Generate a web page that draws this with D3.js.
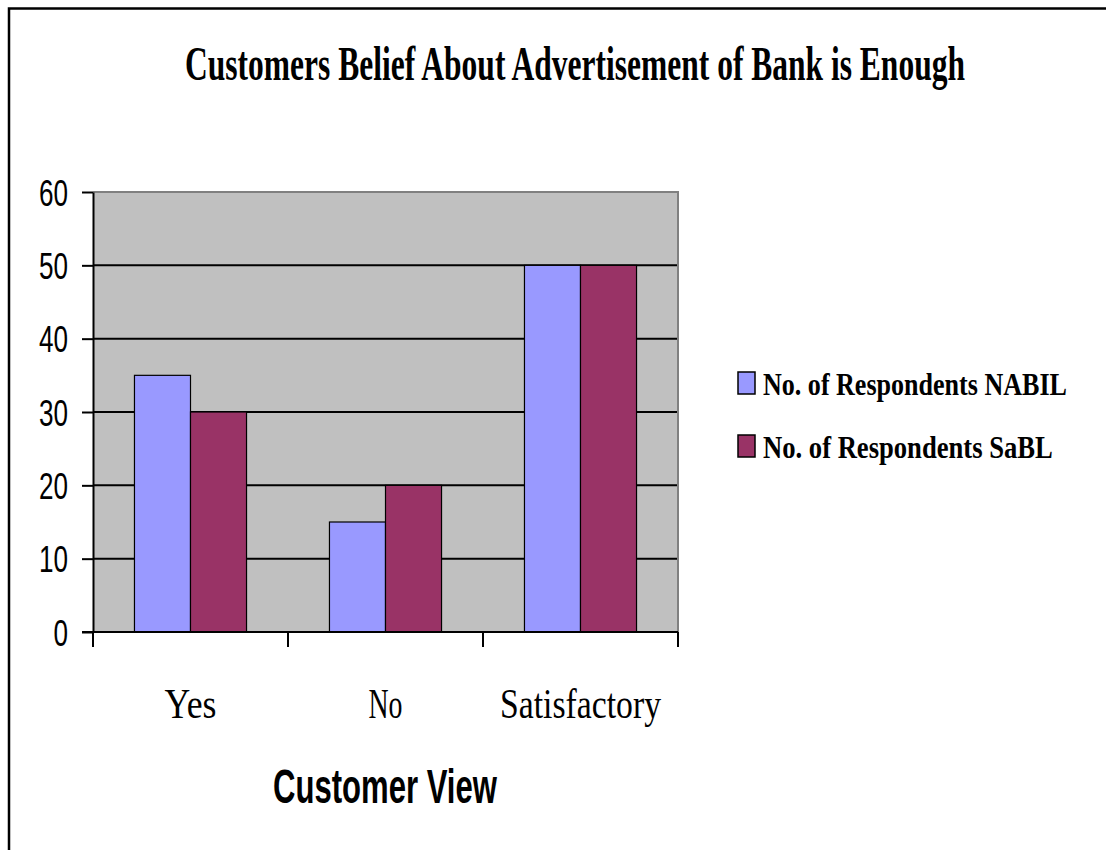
<!DOCTYPE html>
<html>
<head>
<meta charset="utf-8">
<script src="https://cdn.jsdelivr.net/npm/d3@7"></script>
<style>
  html, body { margin: 0; padding: 0; background: #fff; }
  svg { display: block; }
</style>
</head>
<body>
<svg id="chart" width="1106" height="850"></svg>
<script>
// Survey answers: does the bank advertise enough?
const categories = ["Yes", "No", "Satisfactory"];
const seriesNames = ["No. of Respondents NABIL", "No. of Respondents SaBL"];
const nabilValues = [35, 15, 50];
const sablValues = [30, 20, 50];
const yTicks = [0, 10, 20, 30, 40, 50, 60];
const colors = ["#9999ff", "#993366"];

const SERIF = "Liberation Serif, Times New Roman, serif";
const SANS = "Liberation Sans, Arial, sans-serif";

const svg = d3.select("#chart");

// squeeze a text element horizontally to a target width, keeping its anchor point
function condense(sel, width, anchor) {
  sel.each(function (d, i) {
    const t = d3.select(this);
    const w = typeof width === "function" ? width(d, i) : width;
    const natural = this.getComputedTextLength();
    const sx = w / natural;
    const x0 = +t.attr("x") || 0;
    const y0 = +t.attr("y") || 0;
    t.attr("transform", `translate(${x0},${y0}) scale(${sx},1)`)
     .attr("x", 0).attr("y", 0)
     .attr("text-anchor", anchor);
  });
}

// outer chart frame (runs off the right and bottom edges)
svg.append("rect")
  .attr("x", 9).attr("y", 8.5)
  .attr("width", 1200).attr("height", 900)
  .attr("fill", "#fff").attr("stroke", "#000").attr("stroke-width", 2.5);

const plot = { left: 93, right: 678, top: 192, bottom: 632 };

const x = d3.scaleBand().domain(categories)
  .range([plot.left, plot.right]).paddingInner(0).paddingOuter(0);
const xInner = d3.scaleBand().domain([0, 1])
  .range([0, x.bandwidth()]).paddingOuter(0.74).paddingInner(0);
const y = d3.scaleLinear().domain([0, 60]).range([plot.bottom, plot.top]);

// plot area background
svg.append("rect")
  .attr("x", plot.left).attr("y", plot.top)
  .attr("width", plot.right - plot.left).attr("height", plot.bottom - plot.top)
  .attr("fill", "#c0c0c0");

// gridlines
svg.append("g")
  .selectAll("line")
  .data(yTicks.filter(t => t > 0 && t < 60))
  .join("line")
  .attr("x1", plot.left).attr("x2", plot.right)
  .attr("y1", d => y(d)).attr("y2", d => y(d))
  .attr("stroke", "#000").attr("stroke-width", 2);

// plot area border top/right
svg.append("path")
  .attr("d", `M${plot.left},${plot.top}H${plot.right}V${plot.bottom}`)
  .attr("fill", "none").attr("stroke", "#808080").attr("stroke-width", 2);

// bars
const rows = categories.map((c, i) => ({ cat: c, vals: [nabilValues[i], sablValues[i]] }));
svg.append("g")
  .selectAll("g")
  .data(rows)
  .join("g")
  .attr("transform", d => `translate(${x(d.cat)},0)`)
  .selectAll("rect")
  .data(d => d.vals.map((v, k) => ({ v, k })))
  .join("rect")
  .attr("x", d => xInner(d.k))
  .attr("width", xInner.bandwidth())
  .attr("y", d => y(d.v))
  .attr("height", d => y(0) - y(d.v))
  .attr("fill", d => colors[d.k])
  .attr("stroke", "#000").attr("stroke-width", 1.2);

// y axis
const yAxis = svg.append("g")
  .attr("transform", `translate(${plot.left},0)`)
  .call(d3.axisLeft(y).tickValues(yTicks).tickSize(11).tickPadding(14).tickSizeOuter(0));
yAxis.select(".domain").attr("stroke", "#000").attr("stroke-width", 2);
yAxis.selectAll(".tick line").attr("stroke", "#000").attr("stroke-width", 2);
yAxis.selectAll(".tick text")
  .attr("font-family", SANS)
  .attr("font-size", 37).attr("fill", "#000")
  .attr("dy", "0.36em")
  .call(condense, d => String(d).length * 14.5, "end");

// x axis
const xAxis = svg.append("g")
  .attr("transform", `translate(0,${plot.bottom})`)
  .call(d3.axisBottom(x).tickSize(0).tickPadding(0).tickSizeOuter(0));
xAxis.select(".domain").attr("stroke", "#000").attr("stroke-width", 2)
  .attr("d", `M${plot.left - 11},0H${plot.right}`);
xAxis.selectAll(".tick line").remove();
// category separators below axis
svg.append("g")
  .selectAll("line")
  .data(categories.map(c => x(c)).concat([x(categories[categories.length - 1]) + x.bandwidth()]))
  .join("line")
  .attr("x1", d => d).attr("x2", d => d)
  .attr("y1", plot.bottom).attr("y2", plot.bottom + 15)
  .attr("stroke", "#000").attr("stroke-width", 2);
const catWidths = { "Yes": 52, "No": 34, "Satisfactory": 161 };
xAxis.selectAll(".tick text")
  .attr("y", 86).attr("dy", 0)
  .attr("font-family", SERIF)
  .attr("font-size", 42).attr("fill", "#000")
  .call(condense, d => catWidths[d], "middle");

// title
svg.append("text")
  .attr("x", 575).attr("y", 80)
  .attr("font-family", SERIF)
  .attr("font-weight", "bold").attr("font-size", 49)
  .text("Customers Belief About Advertisement of Bank is Enough")
  .call(condense, 780, "middle");

// x axis title
svg.append("text")
  .attr("x", 385).attr("y", 803)
  .attr("font-family", SANS)
  .attr("font-weight", "bold").attr("font-size", 48)
  .text("Customer View")
  .call(condense, 224, "middle");

// legend
const legendWidths = [304, 290];
const legend = svg.append("g")
  .selectAll("g")
  .data(seriesNames)
  .join("g")
  .attr("transform", (d, i) => `translate(738,${372 + i * 63})`);
legend.append("rect")
  .attr("width", 17).attr("height", 22)
  .attr("fill", (d, i) => colors[i])
  .attr("stroke", "#000").attr("stroke-width", 1.5);
legend.append("text")
  .attr("x", 25).attr("y", 23)
  .attr("font-family", SERIF)
  .attr("font-weight", "bold").attr("font-size", 31)
  .text(d => d)
  .call(condense, (d, i) => legendWidths[i], "start");
</script>
</body>
</html>
